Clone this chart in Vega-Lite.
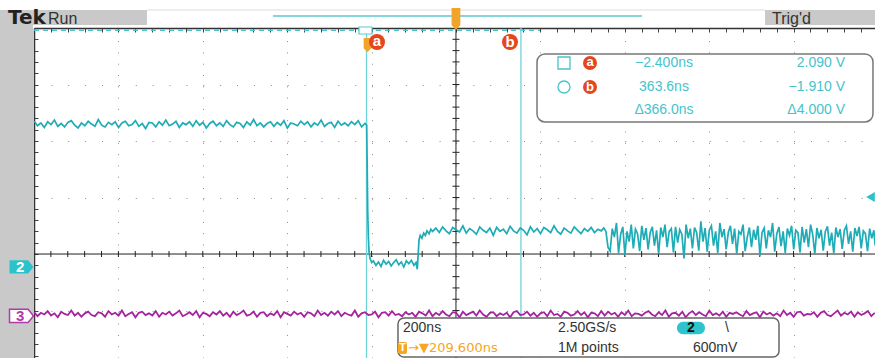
{
"$schema":"https://vega.github.io/schema/vega-lite/v6.json",
"width":841,"height":330,
"autosize":{"type":"none"},
"padding":{"left":34,"top":28,"right":0,"bottom":0},
"background":"white",
"config":{"view":{"stroke":null},"text":{"font":"Liberation Sans"}},
"data":{"values":[{}]},
"resolve":{"axis":{"x":"independent","y":"independent"}},
"datasets":{
"ch2":[
{"t":-790,"v":2.35},{"t":-782,"v":2.27},{"t":-774,"v":2.32},{"t":-766,"v":2.24},{"t":-758,"v":2.34},{"t":-750,"v":2.29},{"t":-742,"v":2.37},{"t":-734,"v":2.26},{"t":-726,"v":2.31},{"t":-718,"v":2.25},
{"t":-710,"v":2.33},{"t":-702,"v":2.36},{"t":-694,"v":2.28},{"t":-686,"v":2.23},{"t":-678,"v":2.32},{"t":-670,"v":2.27},{"t":-662,"v":2.35},{"t":-654,"v":2.30},{"t":-646,"v":2.26},{"t":-638,"v":2.38},
{"t":-630,"v":2.28},{"t":-622,"v":2.25},{"t":-614,"v":2.33},{"t":-606,"v":2.29},{"t":-598,"v":2.34},{"t":-590,"v":2.24},{"t":-582,"v":2.32},{"t":-574,"v":2.35},{"t":-566,"v":2.27},{"t":-558,"v":2.29},
{"t":-550,"v":2.36},{"t":-542,"v":2.26},{"t":-534,"v":2.31},{"t":-526,"v":2.22},{"t":-518,"v":2.33},{"t":-510,"v":2.32},{"t":-502,"v":2.25},{"t":-494,"v":2.34},{"t":-486,"v":2.28},{"t":-478,"v":2.37},
{"t":-470,"v":2.27},{"t":-462,"v":2.30},{"t":-454,"v":2.35},{"t":-446,"v":2.24},{"t":-438,"v":2.32},{"t":-430,"v":2.29},{"t":-422,"v":2.34},{"t":-414,"v":2.26},{"t":-406,"v":2.36},{"t":-398,"v":2.28},
{"t":-390,"v":2.33},{"t":-382,"v":2.23},{"t":-374,"v":2.31},{"t":-366,"v":2.35},{"t":-358,"v":2.27},{"t":-350,"v":2.32},{"t":-342,"v":2.26},{"t":-334,"v":2.36},{"t":-326,"v":2.29},{"t":-318,"v":2.25},
{"t":-310,"v":2.33},{"t":-302,"v":2.31},{"t":-294,"v":2.24},{"t":-286,"v":2.34},{"t":-278,"v":2.28},{"t":-270,"v":2.38},{"t":-262,"v":2.27},{"t":-254,"v":2.32},{"t":-246,"v":2.25},{"t":-238,"v":2.31},
{"t":-230,"v":2.34},{"t":-222,"v":2.26},{"t":-214,"v":2.33},{"t":-206,"v":2.28},{"t":-198,"v":2.36},{"t":-190,"v":2.23},{"t":-182,"v":2.32},{"t":-174,"v":2.30},{"t":-166,"v":2.27},{"t":-158,"v":2.35},
{"t":-150,"v":2.29},{"t":-142,"v":2.34},{"t":-134,"v":2.25},{"t":-126,"v":2.32},{"t":-118,"v":2.28},{"t":-110,"v":2.37},{"t":-102,"v":2.26},{"t":-94,"v":2.31},{"t":-86,"v":2.33},{"t":-78,"v":2.24},
{"t":-70,"v":2.35},{"t":-62,"v":2.28},{"t":-54,"v":2.32},{"t":-46,"v":2.27},{"t":-38,"v":2.34},{"t":-30,"v":2.29},{"t":-22,"v":2.36},{"t":-14,"v":2.25},{"t":-6,"v":2.31},
{"t":-2,"v":2.28},{"t":-0.5,"v":1.4},{"t":0.5,"v":0.75},{"t":2,"v":0.3},{"t":3.5,"v":0.05},{"t":6,"v":-0.08},{"t":10,"v":-0.15},
{"t":14,"v":-0.12},{"t":20,"v":-0.20},{"t":26,"v":-0.14},{"t":32,"v":-0.22},{"t":38,"v":-0.11},{"t":44,"v":-0.18},{"t":50,"v":-0.13},{"t":56,"v":-0.21},{"t":62,"v":-0.15},{"t":68,"v":-0.10},
{"t":74,"v":-0.19},{"t":80,"v":-0.14},{"t":86,"v":-0.23},{"t":92,"v":-0.12},{"t":98,"v":-0.17},{"t":104,"v":-0.11},{"t":110,"v":-0.20},{"t":115,"v":-0.15},{"t":118,"v":-0.27},
{"t":120.5,"v":0.05},{"t":122,"v":0.25},{"t":125,"v":0.33},{"t":129,"v":0.28},{"t":133,"v":0.37},{"t":137,"v":0.33},{"t":141,"v":0.41},{"t":146,"v":0.36},{"t":150,"v":0.44},
{"t":154,"v":0.40},{"t":162,"v":0.46},{"t":170,"v":0.38},{"t":178,"v":0.48},{"t":186,"v":0.41},{"t":194,"v":0.36},{"t":202,"v":0.47},{"t":210,"v":0.43},{"t":218,"v":0.39},{"t":226,"v":0.50},
{"t":234,"v":0.37},{"t":242,"v":0.45},{"t":250,"v":0.41},{"t":258,"v":0.35},{"t":266,"v":0.48},{"t":274,"v":0.42},{"t":282,"v":0.38},{"t":290,"v":0.46},{"t":298,"v":0.33},{"t":306,"v":0.47},
{"t":314,"v":0.40},{"t":322,"v":0.44},{"t":330,"v":0.36},{"t":338,"v":0.49},{"t":346,"v":0.41},{"t":354,"v":0.37},{"t":362,"v":0.46},{"t":370,"v":0.42},{"t":378,"v":0.34},{"t":386,"v":0.48},
{"t":394,"v":0.39},{"t":402,"v":0.45},{"t":410,"v":0.36},{"t":418,"v":0.47},{"t":426,"v":0.43},{"t":434,"v":0.38},{"t":442,"v":0.50},{"t":450,"v":0.40},{"t":458,"v":0.35},{"t":466,"v":0.46},
{"t":474,"v":0.41},{"t":482,"v":0.37},{"t":490,"v":0.48},{"t":498,"v":0.42},{"t":506,"v":0.36},{"t":514,"v":0.45},{"t":522,"v":0.40},{"t":530,"v":0.47},{"t":538,"v":0.38},{"t":546,"v":0.44},
{"t":554,"v":0.41},{"t":560,"v":0.46},
{"t":565,"v":0.40},{"t":570,"v":0.12},{"t":575,"v":0.05},{"t":580,"v":0.45},{"t":585,"v":0.30},{"t":590,"v":0.55},{"t":595,"v":0.02},{"t":600,"v":0.35},{"t":605,"v":0.48},{"t":610,"v":-0.02},
{"t":615,"v":0.40},{"t":620,"v":0.22},{"t":625,"v":0.52},{"t":630,"v":0.10},{"t":635,"v":0.44},{"t":640,"v":0.36},{"t":645,"v":0.05},{"t":650,"v":0.50},{"t":655,"v":0.25},{"t":660,"v":0.46},
{"t":665,"v":0.08},{"t":670,"v":0.38},{"t":675,"v":0.48},{"t":680,"v":0.15},{"t":685,"v":0.42},{"t":690,"v":0.00},{"t":695,"v":0.47},{"t":700,"v":0.30},{"t":705,"v":0.52},{"t":710,"v":0.12},
{"t":715,"v":0.40},{"t":720,"v":0.45},{"t":725,"v":0.03},{"t":730,"v":0.48},{"t":735,"v":0.20},{"t":740,"v":0.43},{"t":745,"v":0.35},{"t":750,"v":-0.08},{"t":755,"v":0.52},{"t":760,"v":0.28},
{"t":765,"v":0.45},{"t":770,"v":0.10},{"t":775,"v":0.47},{"t":780,"v":0.38},{"t":785,"v":0.06},{"t":790,"v":0.58},{"t":795,"v":0.22},{"t":800,"v":0.46},{"t":805,"v":0.04},{"t":810,"v":0.42},
{"t":815,"v":0.50},{"t":820,"v":0.15},{"t":825,"v":0.40},{"t":830,"v":0.02},{"t":835,"v":0.55},{"t":840,"v":0.30},{"t":845,"v":0.44},{"t":850,"v":0.08},{"t":855,"v":0.38},{"t":860,"v":0.50},
{"t":865,"v":0.18},{"t":870,"v":0.45},{"t":875,"v":0.00},{"t":880,"v":0.40},{"t":885,"v":0.35},{"t":890,"v":0.52},{"t":895,"v":0.05},{"t":900,"v":0.30},{"t":905,"v":0.47},{"t":910,"v":0.12},
{"t":915,"v":0.43},{"t":920,"v":0.25},{"t":925,"v":0.50},{"t":930,"v":-0.03},{"t":935,"v":0.38},{"t":940,"v":0.46},{"t":945,"v":0.10},{"t":950,"v":0.42},{"t":955,"v":0.30},{"t":960,"v":0.55},
{"t":965,"v":0.04},{"t":970,"v":0.36},{"t":975,"v":0.48},{"t":980,"v":0.14},{"t":985,"v":0.40},{"t":990,"v":0.02},{"t":995,"v":0.45},{"t":1000,"v":0.33},{"t":1005,"v":0.50},{"t":1010,"v":0.08},
{"t":1015,"v":0.42},{"t":1020,"v":0.38},{"t":1025,"v":0.03},{"t":1030,"v":0.48},{"t":1035,"v":0.20},{"t":1040,"v":0.44},{"t":1045,"v":0.12},{"t":1050,"v":0.52},{"t":1055,"v":0.35},{"t":1060,"v":0.00},
{"t":1065,"v":0.46},{"t":1070,"v":0.28},{"t":1075,"v":0.43},{"t":1080,"v":0.06},{"t":1085,"v":0.40},{"t":1090,"v":0.49},{"t":1095,"v":0.15},{"t":1100,"v":0.38},{"t":1105,"v":0.01},{"t":1110,"v":0.47},
{"t":1115,"v":0.30},{"t":1120,"v":0.44},{"t":1125,"v":0.09},{"t":1130,"v":0.42},{"t":1135,"v":0.50},{"t":1140,"v":0.18},{"t":1145,"v":0.40},{"t":1150,"v":0.04},{"t":1155,"v":0.46},{"t":1160,"v":0.32},
{"t":1165,"v":0.48},{"t":1170,"v":0.10},{"t":1175,"v":0.41},{"t":1180,"v":0.36},{"t":1185,"v":0.05},{"t":1190,"v":0.45},{"t":1195,"v":0.28},{"t":1200,"v":0.42},{"t":1203,"v":0.15}
],
"ch3":[
{"t":-790,"v":-1.03},{"t":-782,"v":-1.10},{"t":-774,"v":-1.04},{"t":-766,"v":-1.07},{"t":-758,"v":-1.01},{"t":-750,"v":-1.09},{"t":-742,"v":-1.05},{"t":-734,"v":-1.12},{"t":-726,"v":-1.02},{"t":-718,"v":-1.06},
{"t":-710,"v":-1.08},{"t":-702,"v":-1.00},{"t":-694,"v":-1.09},{"t":-686,"v":-1.04},{"t":-678,"v":-1.11},{"t":-670,"v":-1.05},{"t":-662,"v":-1.02},{"t":-654,"v":-1.08},{"t":-646,"v":-1.10},{"t":-638,"v":-1.03},
{"t":-630,"v":-1.05},{"t":-622,"v":-1.11},{"t":-614,"v":-1.01},{"t":-606,"v":-1.07},{"t":-598,"v":-1.04},{"t":-590,"v":-1.09},{"t":-582,"v":-1.00},{"t":-574,"v":-1.10},{"t":-566,"v":-1.06},{"t":-558,"v":-1.03},
{"t":-550,"v":-1.12},{"t":-542,"v":-1.04},{"t":-534,"v":-1.02},{"t":-526,"v":-1.08},{"t":-518,"v":-1.05},{"t":-510,"v":-1.09},{"t":-502,"v":-1.01},{"t":-494,"v":-1.11},{"t":-486,"v":-1.04},{"t":-478,"v":-1.07},
{"t":-470,"v":-1.02},{"t":-462,"v":-1.09},{"t":-454,"v":-1.05},{"t":-446,"v":-1.00},{"t":-438,"v":-1.10},{"t":-430,"v":-1.07},{"t":-422,"v":-1.03},{"t":-414,"v":-1.08},{"t":-406,"v":-1.01},{"t":-398,"v":-1.12},
{"t":-390,"v":-1.04},{"t":-382,"v":-1.06},{"t":-374,"v":-1.10},{"t":-366,"v":-1.03},{"t":-358,"v":-1.07},{"t":-350,"v":-1.01},{"t":-342,"v":-1.09},{"t":-334,"v":-1.04},{"t":-326,"v":-1.11},{"t":-318,"v":-1.02},
{"t":-310,"v":-1.08},{"t":-302,"v":-1.05},{"t":-294,"v":-1.00},{"t":-286,"v":-1.09},{"t":-278,"v":-1.07},{"t":-270,"v":-1.02},{"t":-262,"v":-1.11},{"t":-254,"v":-1.04},{"t":-246,"v":-1.03},{"t":-238,"v":-1.10},
{"t":-230,"v":-1.05},{"t":-222,"v":-1.08},{"t":-214,"v":-1.01},{"t":-206,"v":-1.12},{"t":-198,"v":-1.03},{"t":-190,"v":-1.06},{"t":-182,"v":-1.09},{"t":-174,"v":-1.02},{"t":-166,"v":-1.07},{"t":-158,"v":-1.04},
{"t":-150,"v":-1.11},{"t":-142,"v":-1.03},{"t":-134,"v":-1.05},{"t":-126,"v":-1.10},{"t":-118,"v":-1.00},{"t":-110,"v":-1.08},{"t":-102,"v":-1.04},{"t":-94,"v":-1.09},{"t":-86,"v":-1.02},{"t":-78,"v":-1.07},
{"t":-70,"v":-1.01},{"t":-62,"v":-1.10},{"t":-54,"v":-1.04},{"t":-46,"v":-1.07},{"t":-38,"v":-1.09},{"t":-30,"v":-1.00},{"t":-22,"v":-1.11},{"t":-14,"v":-1.05},{"t":-6,"v":-1.03},{"t":2,"v":-1.08},
{"t":10,"v":-1.07},{"t":18,"v":-1.02},{"t":26,"v":-1.12},{"t":34,"v":-1.04},{"t":42,"v":-1.03},{"t":50,"v":-1.09},{"t":58,"v":-1.01},{"t":66,"v":-1.08},{"t":74,"v":-1.06},{"t":82,"v":-1.10},
{"t":90,"v":-1.03},{"t":98,"v":-1.07},{"t":106,"v":-1.04},{"t":114,"v":-1.11},{"t":122,"v":-1.02},{"t":130,"v":-1.05},{"t":138,"v":-1.09},{"t":146,"v":-1.00},{"t":154,"v":-1.10},{"t":162,"v":-1.04},
{"t":170,"v":-1.08},{"t":178,"v":-1.01},{"t":186,"v":-1.07},{"t":194,"v":-1.10},{"t":202,"v":-1.03},{"t":210,"v":-1.04},{"t":218,"v":-1.12},{"t":226,"v":-1.02},{"t":234,"v":-1.08},{"t":242,"v":-1.05},
{"t":250,"v":-1.02},{"t":258,"v":-1.09},{"t":266,"v":-1.00},{"t":274,"v":-1.07},{"t":282,"v":-1.11},{"t":290,"v":-1.04},{"t":298,"v":-1.03},{"t":306,"v":-1.10},{"t":314,"v":-1.05},{"t":322,"v":-1.08},
{"t":330,"v":-1.04},{"t":338,"v":-1.12},{"t":346,"v":-1.03},{"t":354,"v":-1.01},{"t":362,"v":-1.08},{"t":370,"v":-1.07},{"t":378,"v":-1.02},{"t":386,"v":-1.09},{"t":394,"v":-1.04},{"t":402,"v":-1.11},
{"t":410,"v":-1.05},{"t":418,"v":-1.03},{"t":426,"v":-1.10},{"t":434,"v":-1.00},{"t":442,"v":-1.08},{"t":450,"v":-1.06},{"t":458,"v":-1.11},{"t":466,"v":-1.02},{"t":474,"v":-1.04},{"t":482,"v":-1.09},
{"t":490,"v":-1.07},{"t":498,"v":-1.01},{"t":506,"v":-1.08},{"t":514,"v":-1.03},{"t":522,"v":-1.12},{"t":530,"v":-1.04},{"t":538,"v":-1.05},{"t":546,"v":-1.10},{"t":554,"v":-1.01},{"t":562,"v":-1.09},
{"t":570,"v":-1.02},{"t":578,"v":-1.07},{"t":586,"v":-1.04},{"t":594,"v":-1.11},{"t":602,"v":-1.03},{"t":610,"v":-1.08},{"t":618,"v":-1.00},{"t":626,"v":-1.10},{"t":634,"v":-1.05},{"t":642,"v":-1.06},
{"t":650,"v":-1.09},{"t":658,"v":-1.04},{"t":666,"v":-1.01},{"t":674,"v":-1.07},{"t":682,"v":-1.10},{"t":690,"v":-1.03},{"t":698,"v":-1.08},{"t":706,"v":-1.00},{"t":714,"v":-1.11},{"t":722,"v":-1.05},
{"t":730,"v":-1.04},{"t":738,"v":-1.09},{"t":746,"v":-1.02},{"t":754,"v":-1.12},{"t":762,"v":-1.05},{"t":770,"v":-1.01},{"t":778,"v":-1.08},{"t":786,"v":-1.03},{"t":794,"v":-1.07},{"t":802,"v":-1.10},
{"t":810,"v":-1.00},{"t":818,"v":-1.08},{"t":826,"v":-1.05},{"t":834,"v":-1.09},{"t":842,"v":-1.02},{"t":850,"v":-1.11},{"t":858,"v":-1.04},{"t":866,"v":-1.06},{"t":874,"v":-1.03},{"t":882,"v":-1.07},
{"t":890,"v":-1.10},{"t":898,"v":-1.01},{"t":906,"v":-1.08},{"t":914,"v":-1.05},{"t":922,"v":-1.03},{"t":930,"v":-1.12},{"t":938,"v":-1.02},{"t":946,"v":-1.07},{"t":954,"v":-1.04},{"t":962,"v":-1.09},
{"t":970,"v":-1.05},{"t":978,"v":-1.10},{"t":986,"v":-1.00},{"t":994,"v":-1.08},{"t":1002,"v":-1.04},{"t":1010,"v":-1.11},{"t":1018,"v":-1.03},{"t":1026,"v":-1.02},{"t":1034,"v":-1.09},{"t":1042,"v":-1.06},
{"t":1050,"v":-1.07},{"t":1058,"v":-1.03},{"t":1066,"v":-1.11},{"t":1074,"v":-1.04},{"t":1082,"v":-1.01},{"t":1090,"v":-1.08},{"t":1098,"v":-1.10},{"t":1106,"v":-1.05},{"t":1114,"v":-1.00},{"t":1122,"v":-1.09},
{"t":1130,"v":-1.04},{"t":1138,"v":-1.07},{"t":1146,"v":-1.02},{"t":1154,"v":-1.11},{"t":1162,"v":-1.03},{"t":1170,"v":-1.08},{"t":1178,"v":-1.05},{"t":1186,"v":-1.01},{"t":1194,"v":-1.10},{"t":1202,"v":-1.04}
],
"xminor":[{"t":-750.4},{"t":-710.4},{"t":-670.4},{"t":-630.4},{"t":-590.4},{"t":-550.4},{"t":-510.4},{"t":-470.4},{"t":-430.4},{"t":-390.4},{"t":-350.4},{"t":-310.4},{"t":-270.4},{"t":-230.4},{"t":-190.4},{"t":-150.4},{"t":-110.4},{"t":-70.4},{"t":-30.4},{"t":9.6},{"t":49.6},{"t":89.6},{"t":129.6},{"t":169.6},{"t":249.6},{"t":289.6},{"t":329.6},{"t":369.6},{"t":409.6},{"t":449.6},{"t":489.6},{"t":529.6},{"t":569.6},{"t":609.6},{"t":649.6},{"t":689.6},{"t":729.6},{"t":769.6},{"t":809.6},{"t":849.6},{"t":889.6},{"t":929.6},{"t":969.6},{"t":1009.6},{"t":1049.6},{"t":1089.6},{"t":1129.6},{"t":1169.6}],
"yminor":[{"v":-1.8},{"v":-1.6},{"v":-1.4},{"v":-1.2},{"v":-1},{"v":-0.8},{"v":-0.6},{"v":-0.4},{"v":-0.2},{"v":0.2},{"v":0.4},{"v":0.6},{"v":0.8},{"v":1},{"v":1.2},{"v":1.4},{"v":1.6},{"v":1.8},{"v":2},{"v":2.2},{"v":2.4},{"v":2.6},{"v":2.8},{"v":3},{"v":3.2},{"v":3.4},{"v":3.6},{"v":3.8}]
},
"layer":[
{"data":{"name":"ch3"},"mark":{"type":"line","color":"#a4249f","strokeWidth":1.3,"opacity":0},"encoding":{
"x":{"field":"t","type":"quantitative","scale":{"domain":[-790.4,1202.7],"nice":false,"zero":false},"axis":{"orient":"top","title":null,"labels":false,"values":[-750.4,-710.4,-670.4,-630.4,-590.4,-550.4,-510.4,-470.4,-430.4,-390.4,-350.4,-310.4,-270.4,-230.4,-190.4,-150.4,-110.4,-70.4,-30.4,9.6,49.6,89.6,129.6,169.6,209.6,249.6,289.6,329.6,369.6,409.6,449.6,489.6,529.6,569.6,609.6,649.6,689.6,729.6,769.6,809.6,849.6,889.6,929.6,969.6,1009.6,1049.6,1089.6,1129.6,1169.6],"domainColor":"#333333","domainWidth":1.5,"tickColor":"#444444","tickSize":-4,"tickWidth":1,"grid":true,"gridColor":"#8a8a8a","gridWidth":1,"gridDash":[1,10.3],"gridOpacity":{"condition":{"test":"abs(((datum.value+890.4)%200)-100)<1","value":1},"value":0}}},
"y":{"field":"v","type":"quantitative","scale":{"domain":[-1.84,4],"nice":false,"zero":false},"axis":{"orient":"left","title":null,"labels":false,"values":[-1.8,-1.6,-1.4,-1.2,-1,-0.8,-0.6,-0.4,-0.2,0,0.2,0.4,0.6,0.8,1,1.2,1.4,1.6,1.8,2,2.2,2.4,2.6,2.8,3,3.2,3.4,3.6,3.8],"domainColor":"#333333","domainWidth":1.5,"tickColor":"#444444","tickSize":-4,"tickWidth":1,"grid":true,"gridColor":"#8a8a8a","gridWidth":1,"gridDash":[1,15.88],"gridOpacity":{"condition":{"test":"abs(datum.value-round(datum.value))<0.01 && abs(datum.value)>0.5","value":1},"value":0}}}}},
{"mark":{"type":"rect","color":"#c9c9c9"},"encoding":{"x":{"datum":-871,"type":"quantitative","scale":{"domain":[-790.4,1202.7],"nice":false,"zero":false},"axis":null},"x2":{"datum":-792.8},"y":{"datum":4.319,"type":"quantitative","scale":{"domain":[-1.84,4],"nice":false,"zero":false},"axis":null},"y2":{"datum":-1.84}}},
{"mark":{"type":"rect","color":"#c9c9c9"},"encoding":{"x":{"datum":-871,"type":"quantitative","scale":{"domain":[-790.4,1202.7],"nice":false,"zero":false},"axis":null},"x2":{"datum":-522.6},"y":{"datum":4.319,"type":"quantitative","scale":{"domain":[-1.84,4],"nice":false,"zero":false},"axis":null},"y2":{"datum":4.053}}},
{"mark":{"type":"rect","color":"#c9c9c9"},"encoding":{"x":{"datum":942,"type":"quantitative","scale":{"domain":[-790.4,1202.7],"nice":false,"zero":false},"axis":null},"x2":{"datum":1203},"y":{"datum":4.319,"type":"quantitative","scale":{"domain":[-1.84,4],"nice":false,"zero":false},"axis":null},"y2":{"datum":4.053}}},
{"mark":{"type":"rule","color":"#dddddd","strokeWidth":1},"encoding":{"x":{"datum":-522.6,"type":"quantitative","scale":{"domain":[-790.4,1202.7],"nice":false,"zero":false},"axis":null},"x2":{"datum":942},"y":{"datum":4.319,"type":"quantitative","scale":{"domain":[-1.84,4],"nice":false,"zero":false},"axis":null}}},
{"mark":{"type":"rule","color":"#5cc9d1","strokeWidth":1.5},"encoding":{"x":{"datum":-224,"type":"quantitative","scale":{"domain":[-790.4,1202.7],"nice":false,"zero":false},"axis":null},"x2":{"datum":650.5},"y":{"datum":4.212,"type":"quantitative","scale":{"domain":[-1.84,4],"nice":false,"zero":false},"axis":null}}},
{"mark":{"type":"text","text":"Tek","font":"DejaVu Sans","fontWeight":"bold","fontSize":20,"align":"left","baseline":"alphabetic","color":"#222222"},"encoding":{"x":{"datum":-852,"type":"quantitative","scale":{"domain":[-790.4,1202.7],"nice":false,"zero":false},"axis":null},"y":{"datum":4.071,"type":"quantitative","scale":{"domain":[-1.84,4],"nice":false,"zero":false},"axis":null}}},
{"mark":{"type":"text","text":"Run","font":"Liberation Sans Narrow, Liberation Sans","fontSize":16,"align":"left","baseline":"alphabetic","color":"#333333"},"encoding":{"x":{"datum":-757.2,"type":"quantitative","scale":{"domain":[-790.4,1202.7],"nice":false,"zero":false},"axis":null},"y":{"datum":4.071,"type":"quantitative","scale":{"domain":[-1.84,4],"nice":false,"zero":false},"axis":null}}},
{"mark":{"type":"text","text":"Trig'd","font":"Liberation Sans Narrow, Liberation Sans","fontSize":16,"align":"left","baseline":"alphabetic","color":"#333333"},"encoding":{"x":{"datum":958.6,"type":"quantitative","scale":{"domain":[-790.4,1202.7],"nice":false,"zero":false},"axis":null},"y":{"datum":4.071,"type":"quantitative","scale":{"domain":[-1.84,4],"nice":false,"zero":false},"axis":null}}},
{"mark":{"type":"rule","color":"#222222","strokeWidth":1},"encoding":{"x":{"datum":209.6,"type":"quantitative","scale":{"domain":[-790.4,1202.7],"nice":false,"zero":false},"axis":null}}},
{"mark":{"type":"rule","color":"#222222","strokeWidth":1},"encoding":{"y":{"datum":0,"type":"quantitative","scale":{"domain":[-1.84,4],"nice":false,"zero":false},"axis":null}}},
{"data":{"name":"xminor"},"mark":{"type":"tick","orient":"vertical","size":6,"thickness":1,"color":"#222222","opacity":1},"encoding":{"x":{"field":"t","type":"quantitative","scale":{"domain":[-790.4,1202.7],"nice":false,"zero":false},"axis":null},"y":{"datum":0,"type":"quantitative","scale":{"domain":[-1.84,4],"nice":false,"zero":false},"axis":null}}},
{"data":{"name":"yminor"},"mark":{"type":"tick","orient":"horizontal","size":7,"thickness":1,"color":"#222222","opacity":1},"encoding":{"y":{"field":"v","type":"quantitative","scale":{"domain":[-1.84,4],"nice":false,"zero":false},"axis":null},"x":{"datum":209.6,"type":"quantitative","scale":{"domain":[-790.4,1202.7],"nice":false,"zero":false},"axis":null}}},
{"mark":{"type":"rule","color":"#4cc4cc","strokeWidth":1.5,"strokeDash":[5,4]},"encoding":{"x":{"datum":-790.4,"type":"quantitative","scale":{"domain":[-790.4,1202.7],"nice":false,"zero":false},"axis":null},"x2":{"datum":408.8},"y":{"datum":3.96,"type":"quantitative","scale":{"domain":[-1.84,4],"nice":false,"zero":false},"axis":null}}},
{"mark":{"type":"rule","color":"#6fd3da","strokeWidth":1.3},"encoding":{"x":{"datum":-2.4,"type":"quantitative","scale":{"domain":[-790.4,1202.7],"nice":false,"zero":false},"axis":null},"y":{"datum":3.894,"type":"quantitative","scale":{"domain":[-1.84,4],"nice":false,"zero":false},"axis":null},"y2":{"datum":-1.84}}},
{"mark":{"type":"rule","color":"#6fd3da","strokeWidth":1.3},"encoding":{"x":{"datum":363.6,"type":"quantitative","scale":{"domain":[-790.4,1202.7],"nice":false,"zero":false},"axis":null},"y":{"datum":4,"type":"quantitative","scale":{"domain":[-1.84,4],"nice":false,"zero":false},"axis":null},"y2":{"datum":-1.84}}},
{"data":{"name":"ch3"},"mark":{"type":"line","color":"#a4249f","strokeWidth":1.8},"encoding":{"x":{"field":"t","type":"quantitative","scale":{"domain":[-790.4,1202.7],"nice":false,"zero":false},"axis":null},"y":{"field":"v","type":"quantitative","scale":{"domain":[-1.84,4],"nice":false,"zero":false},"axis":null}}},
{"data":{"name":"ch2"},"mark":{"type":"line","color":"#1eacb6","strokeWidth":1.7},"encoding":{"x":{"field":"t","type":"quantitative","scale":{"domain":[-790.4,1202.7],"nice":false,"zero":false},"axis":null},"y":{"field":"v","type":"quantitative","scale":{"domain":[-1.84,4],"nice":false,"zero":false},"axis":null}}},
{"mark":{"type":"rect","fill":"white","stroke":"#777777","strokeWidth":1.5,"cornerRadius":8},"encoding":{"x":{"datum":401.7,"type":"quantitative","scale":{"domain":[-790.4,1202.7],"nice":false,"zero":false},"axis":null},"x2":{"datum":1197.9},"y":{"datum":3.54,"type":"quantitative","scale":{"domain":[-1.84,4],"nice":false,"zero":false},"axis":null},"y2":{"datum":2.337}}},
{"mark":{"type":"point","shape":"square","size":144,"filled":false,"stroke":"#45c4cc","strokeWidth":1.3,"opacity":1},"encoding":{"x":{"datum":465.6,"type":"quantitative","scale":{"domain":[-790.4,1202.7],"nice":false,"zero":false},"axis":null},"y":{"datum":3.381,"type":"quantitative","scale":{"domain":[-1.84,4],"nice":false,"zero":false},"axis":null}}},
{"mark":{"type":"point","shape":"circle","size":144,"filled":false,"stroke":"#45c4cc","strokeWidth":1.3,"opacity":1},"encoding":{"x":{"datum":465.6,"type":"quantitative","scale":{"domain":[-790.4,1202.7],"nice":false,"zero":false},"axis":null},"y":{"datum":2.956,"type":"quantitative","scale":{"domain":[-1.84,4],"nice":false,"zero":false},"axis":null}}},
{"mark":{"type":"point","shape":"circle","size":196,"filled":true,"color":"#e4461e","opacity":1},"encoding":{"x":{"datum":527.3,"type":"quantitative","scale":{"domain":[-790.4,1202.7],"nice":false,"zero":false},"axis":null},"y":{"datum":3.381,"type":"quantitative","scale":{"domain":[-1.84,4],"nice":false,"zero":false},"axis":null}}},
{"mark":{"type":"point","shape":"circle","size":196,"filled":true,"color":"#e4461e","opacity":1},"encoding":{"x":{"datum":527.3,"type":"quantitative","scale":{"domain":[-790.4,1202.7],"nice":false,"zero":false},"axis":null},"y":{"datum":2.956,"type":"quantitative","scale":{"domain":[-1.84,4],"nice":false,"zero":false},"axis":null}}},
{"mark":{"type":"text","text":"a","fontWeight":"bold","fontSize":13,"align":"center","baseline":"middle","color":"white","dy":-1},"encoding":{"x":{"datum":527.3,"type":"quantitative","scale":{"domain":[-790.4,1202.7],"nice":false,"zero":false},"axis":null},"y":{"datum":3.381,"type":"quantitative","scale":{"domain":[-1.84,4],"nice":false,"zero":false},"axis":null}}},
{"mark":{"type":"text","text":"b","fontWeight":"bold","fontSize":13,"align":"center","baseline":"middle","color":"white"},"encoding":{"x":{"datum":527.3,"type":"quantitative","scale":{"domain":[-790.4,1202.7],"nice":false,"zero":false},"axis":null},"y":{"datum":2.956,"type":"quantitative","scale":{"domain":[-1.84,4],"nice":false,"zero":false},"axis":null}}},
{"mark":{"type":"text","text":"−2.400ns","fontSize":14,"align":"center","baseline":"middle","color":"#45c4cc"},"encoding":{"x":{"datum":702.6,"type":"quantitative","scale":{"domain":[-790.4,1202.7],"nice":false,"zero":false},"axis":null},"y":{"datum":3.381,"type":"quantitative","scale":{"domain":[-1.84,4],"nice":false,"zero":false},"axis":null}}},
{"mark":{"type":"text","text":"363.6ns","fontSize":14,"align":"center","baseline":"middle","color":"#45c4cc"},"encoding":{"x":{"datum":702.6,"type":"quantitative","scale":{"domain":[-790.4,1202.7],"nice":false,"zero":false},"axis":null},"y":{"datum":2.956,"type":"quantitative","scale":{"domain":[-1.84,4],"nice":false,"zero":false},"axis":null}}},
{"mark":{"type":"text","text":"Δ366.0ns","fontSize":14,"align":"center","baseline":"middle","color":"#45c4cc"},"encoding":{"x":{"datum":702.6,"type":"quantitative","scale":{"domain":[-790.4,1202.7],"nice":false,"zero":false},"axis":null},"y":{"datum":2.549,"type":"quantitative","scale":{"domain":[-1.84,4],"nice":false,"zero":false},"axis":null}}},
{"mark":{"type":"text","text":"2.090 V","fontSize":14,"align":"right","baseline":"middle","color":"#45c4cc"},"encoding":{"x":{"datum":1131.6,"type":"quantitative","scale":{"domain":[-790.4,1202.7],"nice":false,"zero":false},"axis":null},"y":{"datum":3.381,"type":"quantitative","scale":{"domain":[-1.84,4],"nice":false,"zero":false},"axis":null}}},
{"mark":{"type":"text","text":"−1.910 V","fontSize":14,"align":"right","baseline":"middle","color":"#45c4cc"},"encoding":{"x":{"datum":1131.6,"type":"quantitative","scale":{"domain":[-790.4,1202.7],"nice":false,"zero":false},"axis":null},"y":{"datum":2.956,"type":"quantitative","scale":{"domain":[-1.84,4],"nice":false,"zero":false},"axis":null}}},
{"mark":{"type":"text","text":"Δ4.000 V","fontSize":14,"align":"right","baseline":"middle","color":"#45c4cc"},"encoding":{"x":{"datum":1131.6,"type":"quantitative","scale":{"domain":[-790.4,1202.7],"nice":false,"zero":false},"axis":null},"y":{"datum":2.549,"type":"quantitative","scale":{"domain":[-1.84,4],"nice":false,"zero":false},"axis":null}}},
{"mark":{"type":"rect","fill":"white","stroke":"#666666","strokeWidth":1.5,"cornerRadius":6},"encoding":{"x":{"datum":72.2,"type":"quantitative","scale":{"domain":[-790.4,1202.7],"nice":false,"zero":false},"axis":null},"x2":{"datum":975.2},"y":{"datum":-1.132,"type":"quantitative","scale":{"domain":[-1.84,4],"nice":false,"zero":false},"axis":null},"y2":{"datum":-1.822}}},
{"mark":{"type":"text","text":"200ns","fontSize":14,"align":"left","baseline":"middle","color":"#333333"},"encoding":{"x":{"datum":84.1,"type":"quantitative","scale":{"domain":[-790.4,1202.7],"nice":false,"zero":false},"axis":null},"y":{"datum":-1.309,"type":"quantitative","scale":{"domain":[-1.84,4],"nice":false,"zero":false},"axis":null}}},
{"mark":{"type":"text","text":"2.50GS/s","fontSize":14,"align":"left","baseline":"middle","color":"#333333"},"encoding":{"x":{"datum":451.4,"type":"quantitative","scale":{"domain":[-790.4,1202.7],"nice":false,"zero":false},"axis":null},"y":{"datum":-1.309,"type":"quantitative","scale":{"domain":[-1.84,4],"nice":false,"zero":false},"axis":null}}},
{"mark":{"type":"rect","fill":"#2ec4cc","cornerRadius":7},"encoding":{"x":{"datum":733.4,"type":"quantitative","scale":{"domain":[-790.4,1202.7],"nice":false,"zero":false},"axis":null},"x2":{"datum":799.8},"y":{"datum":-1.2,"type":"quantitative","scale":{"domain":[-1.84,4],"nice":false,"zero":false},"axis":null},"y2":{"datum":-1.42}}},
{"mark":{"type":"text","text":"2","fontWeight":"bold","fontSize":14,"align":"center","baseline":"middle","color":"#111111"},"encoding":{"x":{"datum":766.6,"type":"quantitative","scale":{"domain":[-790.4,1202.7],"nice":false,"zero":false},"axis":null},"y":{"datum":-1.309,"type":"quantitative","scale":{"domain":[-1.84,4],"nice":false,"zero":false},"axis":null}}},
{"mark":{"type":"text","text":"\\","fontSize":14,"align":"center","baseline":"middle","color":"#333333"},"encoding":{"x":{"datum":851.9,"type":"quantitative","scale":{"domain":[-790.4,1202.7],"nice":false,"zero":false},"axis":null},"y":{"datum":-1.309,"type":"quantitative","scale":{"domain":[-1.84,4],"nice":false,"zero":false},"axis":null}}},
{"mark":{"type":"rect","fill":"#f5a623","cornerRadius":2},"encoding":{"x":{"datum":72.2,"type":"quantitative","scale":{"domain":[-790.4,1202.7],"nice":false,"zero":false},"axis":null},"x2":{"datum":93.6},"y":{"datum":-1.557,"type":"quantitative","scale":{"domain":[-1.84,4],"nice":false,"zero":false},"axis":null},"y2":{"datum":-1.769}}},
{"mark":{"type":"text","text":"T","fontWeight":"bold","fontSize":11,"align":"center","baseline":"middle","color":"white"},"encoding":{"x":{"datum":82.9,"type":"quantitative","scale":{"domain":[-790.4,1202.7],"nice":false,"zero":false},"axis":null},"y":{"datum":-1.663,"type":"quantitative","scale":{"domain":[-1.84,4],"nice":false,"zero":false},"axis":null}}},
{"mark":{"type":"text","text":"→▼209.600ns","font":"DejaVu Sans","fontSize":13,"align":"left","baseline":"middle","color":"#f5a623"},"encoding":{"x":{"datum":96,"type":"quantitative","scale":{"domain":[-790.4,1202.7],"nice":false,"zero":false},"axis":null},"y":{"datum":-1.663,"type":"quantitative","scale":{"domain":[-1.84,4],"nice":false,"zero":false},"axis":null}}},
{"mark":{"type":"text","text":"1M points","fontSize":14,"align":"left","baseline":"middle","color":"#333333"},"encoding":{"x":{"datum":451.4,"type":"quantitative","scale":{"domain":[-790.4,1202.7],"nice":false,"zero":false},"axis":null},"y":{"datum":-1.663,"type":"quantitative","scale":{"domain":[-1.84,4],"nice":false,"zero":false},"axis":null}}},
{"mark":{"type":"text","text":"600mV","fontSize":14,"align":"left","baseline":"middle","color":"#333333"},"encoding":{"x":{"datum":771.4,"type":"quantitative","scale":{"domain":[-790.4,1202.7],"nice":false,"zero":false},"axis":null},"y":{"datum":-1.663,"type":"quantitative","scale":{"domain":[-1.84,4],"nice":false,"zero":false},"axis":null}}},
{"mark":{"type":"point","shape":"M-1,-0.55L0.55,-0.55L1,0L0.55,0.55L-1,0.55Z","size":576,"filled":true,"color":"#2bc3cb","opacity":1},"encoding":{"x":{"datum":-820,"type":"quantitative","scale":{"domain":[-790.4,1202.7],"nice":false,"zero":false},"axis":null},"y":{"datum":-0.229,"type":"quantitative","scale":{"domain":[-1.84,4],"nice":false,"zero":false},"axis":null}}},
{"mark":{"type":"text","text":"2","fontWeight":"bold","fontSize":15,"align":"center","baseline":"middle","color":"white"},"encoding":{"x":{"datum":-823,"type":"quantitative","scale":{"domain":[-790.4,1202.7],"nice":false,"zero":false},"axis":null},"y":{"datum":-0.229,"type":"quantitative","scale":{"domain":[-1.84,4],"nice":false,"zero":false},"axis":null}}},
{"mark":{"type":"point","shape":"M-1,-0.55L0.55,-0.55L1,0L0.55,0.55L-1,0.55Z","size":576,"filled":true,"fill":"white","stroke":"#b03aa8","strokeWidth":1.5,"opacity":1},"encoding":{"x":{"datum":-820,"type":"quantitative","scale":{"domain":[-790.4,1202.7],"nice":false,"zero":false},"axis":null},"y":{"datum":-1.096,"type":"quantitative","scale":{"domain":[-1.84,4],"nice":false,"zero":false},"axis":null}}},
{"mark":{"type":"text","text":"3","fontWeight":"bold","fontSize":15,"align":"center","baseline":"middle","color":"#b03aa8"},"encoding":{"x":{"datum":-823,"type":"quantitative","scale":{"domain":[-790.4,1202.7],"nice":false,"zero":false},"axis":null},"y":{"datum":-1.096,"type":"quantitative","scale":{"domain":[-1.84,4],"nice":false,"zero":false},"axis":null}}},
{"mark":{"type":"point","shape":"triangle-left","size":100,"filled":true,"color":"#2bc3cb","opacity":1},"encoding":{"x":{"datum":1192,"type":"quantitative","scale":{"domain":[-790.4,1202.7],"nice":false,"zero":false},"axis":null},"y":{"datum":1.009,"type":"quantitative","scale":{"domain":[-1.84,4],"nice":false,"zero":false},"axis":null}}},
{"mark":{"type":"point","shape":"M-0.4,-1L0.4,-1L0.4,0.55L0,1L-0.4,0.55Z","size":484,"filled":true,"color":"#f0a42a","opacity":1},"encoding":{"x":{"datum":209.6,"type":"quantitative","scale":{"domain":[-790.4,1202.7],"nice":false,"zero":false},"axis":null},"y":{"datum":4.159,"type":"quantitative","scale":{"domain":[-1.84,4],"nice":false,"zero":false},"axis":null}}},
{"mark":{"type":"rect","fill":"white","stroke":"#5cc9d1","strokeWidth":1.2},"encoding":{"x":{"datum":-20.2,"type":"quantitative","scale":{"domain":[-790.4,1202.7],"nice":false,"zero":false},"axis":null},"x2":{"datum":10.6},"y":{"datum":4.018,"type":"quantitative","scale":{"domain":[-1.84,4],"nice":false,"zero":false},"axis":null},"y2":{"datum":3.894}}},
{"mark":{"type":"point","shape":"M-0.55,-1L0.55,-1L0.55,0.45L0,1L-0.55,0.45Z","size":196,"filled":true,"color":"#f0a42a","opacity":1},"encoding":{"x":{"datum":0,"type":"quantitative","scale":{"domain":[-790.4,1202.7],"nice":false,"zero":false},"axis":null},"y":{"datum":3.699,"type":"quantitative","scale":{"domain":[-1.84,4],"nice":false,"zero":false},"axis":null}}},
{"mark":{"type":"point","shape":"circle","size":256,"filled":true,"color":"#e4461e","opacity":1},"encoding":{"x":{"datum":22.5,"type":"quantitative","scale":{"domain":[-790.4,1202.7],"nice":false,"zero":false},"axis":null},"y":{"datum":3.752,"type":"quantitative","scale":{"domain":[-1.84,4],"nice":false,"zero":false},"axis":null}}},
{"mark":{"type":"point","shape":"circle","size":256,"filled":true,"color":"#e4461e","opacity":1},"encoding":{"x":{"datum":337.7,"type":"quantitative","scale":{"domain":[-790.4,1202.7],"nice":false,"zero":false},"axis":null},"y":{"datum":3.752,"type":"quantitative","scale":{"domain":[-1.84,4],"nice":false,"zero":false},"axis":null}}},
{"mark":{"type":"text","text":"a","fontWeight":"bold","fontSize":15,"align":"center","baseline":"middle","color":"white","dy":-1},"encoding":{"x":{"datum":22.5,"type":"quantitative","scale":{"domain":[-790.4,1202.7],"nice":false,"zero":false},"axis":null},"y":{"datum":3.752,"type":"quantitative","scale":{"domain":[-1.84,4],"nice":false,"zero":false},"axis":null}}},
{"mark":{"type":"text","text":"b","fontWeight":"bold","fontSize":15,"align":"center","baseline":"middle","color":"white"},"encoding":{"x":{"datum":337.7,"type":"quantitative","scale":{"domain":[-790.4,1202.7],"nice":false,"zero":false},"axis":null},"y":{"datum":3.752,"type":"quantitative","scale":{"domain":[-1.84,4],"nice":false,"zero":false},"axis":null}}}
]
}
